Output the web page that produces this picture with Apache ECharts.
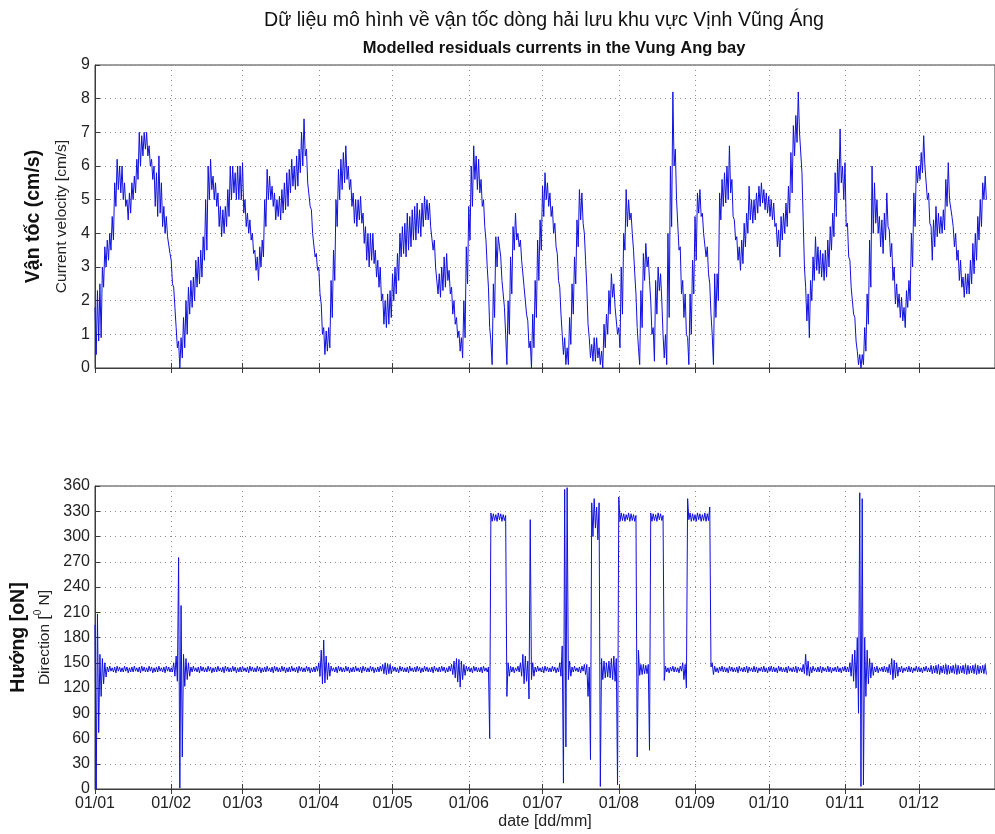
<!DOCTYPE html>
<html>
<head>
<meta charset="utf-8">
<script src="https://cdn.jsdelivr.net/npm/echarts@6.0.0/dist/echarts.min.js"></script>
<style>
  html, body { margin: 0; padding: 0; background: #fff; }
  #chart { width: 995px; height: 834px; }
</style>
</head>
<body>
<div id="chart"></div>
<script>
// Time axis in days from 01/01 (leap year), ticks at the first day of each month
const monthStart = [0, 31, 60, 91, 121, 152, 182, 213, 244, 274, 305, 335];
const monthLabels = ['01/01', '01/02', '01/03', '01/04', '01/05', '01/06',
                     '01/07', '01/08', '01/09', '01/10', '01/11', '01/12'];

// Current speed [cm/s]: daily upper (tide peak) and lower (tide trough) values
const speedHigh = [
  1.8,2.3,2.5,3.0,3.6,3.8,4.0,4.5,5.5,6.2,
  6.0,6.0,5.5,5.0,5.2,5.5,5.7,6.2,7.0,6.9,
  7.0,7.0,6.6,6.2,6.0,5.8,6.3,5.5,4.8,4.5,
  3.9,3.2,2.4,1.2,0.8,0.9,1.5,2.0,2.4,2.6,
  2.7,3.2,3.3,3.5,3.9,5.0,6.0,6.2,5.7,5.5,
  5.2,4.8,4.7,4.8,5.3,6.0,6.0,5.8,6.0,6.0,
  6.1,5.0,4.6,4.4,4.0,3.5,3.3,3.6,3.8,5.0,
  5.9,5.7,5.4,5.2,5.0,5.1,5.3,5.5,5.8,5.9,
  6.2,6.0,6.3,6.5,7.0,7.4,6.5,5.5,4.7,4.0,
  3.4,3.0,1.9,1.2,1.1,1.2,2.6,3.5,5.0,5.9,
  6.2,6.4,6.6,6.0,5.6,5.2,5.0,5.0,5.1,4.6,
  4.2,4.0,4.0,4.0,3.5,3.2,3.0,2.2,2.0,2.2,
  2.3,2.8,3.0,3.4,4.0,4.2,4.3,4.6,4.5,4.7,
  4.8,4.9,4.7,4.9,5.1,5.0,4.9,4.2,3.8,3.0,
  2.8,3.0,3.3,3.4,2.9,2.4,2.0,1.5,1.1,0.9,
  2.0,3.6,4.8,6.0,6.6,6.3,6.2,5.6,5.0,3.8,
  2.4,0.8,2.5,3.9,3.9,3.3,2.6,1.0,2.0,3.3,
  4.2,4.6,4.0,3.8,3.2,2.4,1.4,0.8,1.6,2.6,
  3.8,4.4,5.4,5.8,5.5,5.2,4.8,4.3,3.4,2.4,
  1.0,0.9,0.6,1.5,2.5,3.3,4.4,5.3,5.2,4.0,
  2.4,0.9,0.7,0.9,0.9,0.6,0.5,1.3,1.6,2.3,
  2.8,2.5,1.8,1.2,3.0,4.0,5.3,5.0,4.6,3.5,
  2.2,0.6,2.3,3.4,3.7,3.3,2.0,1.2,2.6,3.0,
  2.8,1.0,1.0,4.0,6.0,8.2,6.5,5.0,3.6,2.6,
  2.2,0.9,2.2,3.2,4.5,5.2,5.3,4.6,4.0,3.6,
  2.5,1.0,2.8,2.8,5.2,5.6,5.8,6.0,6.6,5.6,
  4.4,3.9,3.6,3.8,4.3,4.6,5.4,5.0,5.0,5.2,
  5.4,5.5,5.3,5.2,5.1,5.0,4.9,4.3,4.1,4.5,
  4.6,4.9,5.4,6.4,7.2,7.5,8.2,7.0,4.4,2.4,
  2.2,2.6,3.3,3.9,3.6,3.5,3.4,3.5,3.8,4.2,
  4.6,5.8,6.2,7.1,6.0,6.1,4.3,3.2,2.4,1.5,
  0.5,0.4,0.4,1.2,2.2,3.8,6.0,5.5,5.0,4.5,
  4.4,4.6,5.2,4.1,3.7,3.0,2.5,2.2,2.1,1.8,
  2.3,2.6,4.0,5.2,6.0,6.0,6.4,6.9,6.0,5.2,
  4.2,4.4,4.8,4.6,4.5,4.7,5.6,6.1,5.0,4.2,
  4.0,3.5,3.2,2.7,2.8,2.8,3.2,3.7,4.0,4.5,
  5.0,5.5,5.7
];
const speedLow = [
  0.4,0.8,0.9,2.4,3.0,3.2,3.5,3.8,4.8,5.3,
  5.2,5.0,4.8,4.4,4.6,5.0,5.2,5.6,6.0,6.3,
  6.5,6.3,6.0,5.6,4.8,4.5,4.6,4.2,4.0,3.9,
  3.4,2.5,1.8,0.6,0.0,0.3,0.6,1.0,1.6,1.8,
  2.0,2.4,2.5,2.7,3.2,3.5,5.0,5.3,5.0,4.8,
  4.2,3.9,4.0,4.2,4.5,5.0,5.2,5.0,5.0,5.0,
  4.6,4.2,4.0,3.8,3.4,2.9,2.6,3.0,3.3,4.2,
  5.0,5.0,4.8,4.4,4.5,4.4,4.6,4.7,4.8,5.2,
  5.4,5.3,5.4,5.8,6.0,6.3,5.5,4.8,4.0,3.3,
  2.9,2.2,1.0,0.4,0.5,0.6,1.5,2.6,4.2,5.0,
  5.3,5.5,5.6,5.3,4.8,4.3,4.2,4.4,4.3,3.7,
  3.2,3.0,3.2,3.1,2.7,2.4,2.0,1.3,1.2,1.3,
  1.5,2.0,2.2,2.6,3.3,3.4,3.3,3.5,3.6,3.8,
  3.8,4.0,3.9,4.2,4.4,4.4,4.2,3.5,3.0,2.2,
  2.1,2.3,2.4,2.6,2.2,1.6,1.3,0.9,0.5,0.3,
  0.9,2.5,3.8,4.8,5.6,5.3,5.2,4.8,4.2,3.0,
  1.2,0.1,1.5,3.0,3.6,2.6,1.8,0.1,1.0,2.2,
  3.5,3.8,3.6,3.2,2.4,1.6,0.6,0.0,0.6,1.5,
  2.6,3.5,4.5,5.0,4.8,4.5,4.0,3.6,2.6,1.6,
  0.4,0.1,0.1,0.7,1.6,2.5,3.6,4.4,4.3,3.2,
  1.3,0.3,0.2,0.2,0.3,0.1,0.0,0.6,1.0,1.6,
  2.1,1.8,1.0,0.6,1.6,3.5,4.2,4.4,4.0,2.8,
  1.2,0.1,1.2,2.6,3.0,2.6,1.0,0.2,1.6,2.3,
  2.0,0.3,0.1,1.5,4.2,6.0,5.0,3.5,2.2,1.5,
  1.0,0.1,1.0,2.2,3.2,4.6,4.5,4.0,3.3,2.8,
  1.6,0.1,1.5,2.0,4.4,4.8,4.9,5.0,5.2,4.5,
  3.8,3.2,2.9,3.1,3.6,4.0,4.4,4.3,4.4,4.6,
  4.8,4.9,4.7,4.6,4.5,4.4,4.2,3.6,3.3,3.8,
  4.0,4.2,4.6,5.2,6.3,6.7,7.0,5.8,3.0,1.4,
  0.9,2.0,2.6,2.9,2.8,2.7,2.6,2.7,3.0,3.5,
  3.9,4.5,5.2,5.5,5.0,4.2,3.3,2.4,1.6,0.8,
  0.1,0.0,0.1,0.5,1.3,2.4,4.0,4.3,4.0,3.6,
  3.4,3.8,4.2,3.3,2.6,1.9,1.8,1.5,1.4,1.2,
  1.8,2.0,3.0,4.2,5.5,5.6,5.8,6.0,5.0,4.3,
  3.2,3.6,3.9,4.0,4.0,4.1,4.8,5.0,4.5,3.6,
  3.2,2.6,2.4,2.1,2.2,2.2,2.5,2.8,3.2,3.8,
  4.2,5.0,5.0
];

// Current direction [deg N]: daily upper and lower values
const dirHigh = [
  195,208,160,155,150,145,146,144,145,146,
  145,144,146,145,144,145,146,144,145,146,
  145,144,146,145,144,145,146,144,145,146,
  145,144,150,158,275,218,160,155,150,145,
  146,144,145,146,145,144,146,145,144,145,
  146,144,145,146,145,144,146,145,144,145,
  146,144,145,146,145,144,146,145,144,145,
  146,144,145,146,145,144,146,145,144,145,
  146,144,145,146,145,144,146,145,144,145,
  146,150,165,177,158,150,146,144,145,146,
  145,144,146,145,144,145,146,144,145,146,
  145,144,146,145,144,145,146,148,150,149,
  148,146,145,144,146,145,144,145,146,144,
  145,146,145,144,146,145,144,145,146,144,
  145,146,145,144,146,148,152,155,154,152,
  148,146,145,144,146,145,144,145,146,144,
  145,328,327,326,328,327,326,325,150,146,
  145,144,146,150,160,158,152,320,150,145,
  146,144,145,146,145,144,146,145,144,150,
  170,356,358,152,145,146,144,145,146,148,
  148,145,340,345,335,340,155,152,150,152,
  155,158,155,347,328,327,326,328,327,326,
  325,165,148,148,147,148,328,327,326,328,
  327,325,146,144,145,146,145,144,146,150,
  148,345,328,327,326,328,327,326,328,327,
  335,150,146,144,145,146,145,144,146,145,
  144,145,146,144,145,146,145,144,146,145,
  144,145,146,144,145,146,145,144,146,145,
  144,145,146,144,145,146,145,144,148,160,
  152,145,146,144,145,146,145,144,146,145,
  144,145,146,144,145,146,145,150,160,165,
  180,352,345,180,165,155,150,145,146,144,
  145,146,145,148,155,153,150,145,146,144,
  145,146,145,144,146,145,144,145,146,144,
  147,146,147,148,146,147,148,147,146,147,
  148,147,146,147,148,147,146,147,148,147,
  146,147,148
];
const dirLow = [
  0,67,110,125,133,139,140,139,138,140,
  139,139,140,138,139,139,140,139,138,140,
  139,139,140,138,139,139,140,139,138,140,
  139,139,134,128,1,38,122,130,134,139,
  140,139,138,140,139,139,140,138,139,139,
  140,139,138,140,139,139,140,138,139,139,
  140,139,138,140,139,139,140,138,139,139,
  140,139,138,140,139,139,140,138,139,139,
  140,139,138,140,139,139,140,138,139,139,
  140,134,125,126,130,134,140,139,138,140,
  139,139,140,138,139,139,140,139,138,140,
  139,139,140,138,139,139,140,137,136,137,
  137,140,139,138,140,139,139,138,140,139,
  139,140,138,139,140,139,139,138,140,139,
  139,140,138,139,140,136,132,127,121,130,
  135,140,139,138,140,139,139,138,140,139,
  60,318,319,318,320,318,319,110,134,139,
  138,140,139,134,125,128,107,130,134,139,
  140,139,138,140,139,139,140,138,139,134,
  7,50,130,134,139,140,139,138,140,136,
  110,35,300,310,296,3,130,132,133,132,
  130,128,5,318,319,318,320,318,319,318,
  38,135,136,137,137,46,318,319,318,320,
  319,129,139,138,140,139,139,138,140,130,
  120,320,318,319,318,320,318,319,318,319,
  145,136,139,138,140,139,139,138,140,139,
  139,138,140,139,139,138,140,139,139,138,
  140,139,139,138,140,139,139,138,140,139,
  139,138,140,139,139,138,140,139,137,135,
  134,138,140,139,139,138,140,139,139,138,
  140,139,139,138,140,139,139,134,128,120,
  90,3,5,110,125,132,135,139,138,140,
  139,139,138,136,130,132,134,139,138,140,
  139,139,138,140,139,139,138,140,139,139,
  137,138,137,136,138,137,136,137,138,137,
  136,137,138,137,136,137,138,137,136,137,
  138,137,136
];

// Peak at the start of each day, trough half a day later
function dailyPoints(high, low) {
  const pts = [];
  for (let d = 0; d < high.length; d++) {
    pts.push([d, high[d]]);
    pts.push([d + 0.5, low[d]]);
  }
  return pts;
}

const FONT = '"Liberation Sans", Arial, Helvetica, sans-serif';
const LINE_BLUE = '#1010e0';
const gridDots = { color: '#8c8c8c', width: 1, type: [1, 4] };
const frameColor = '#3c3c3c';

function monthAxis(gridIndex, withLabels) {
  return {
    type: 'value', gridIndex: gridIndex, min: 0, max: 366,
    axisLine: { show: true, onZero: false, lineStyle: { color: frameColor } },
    axisTick: { show: true, inside: true, length: 5, customValues: monthStart,
                lineStyle: { color: frameColor } },
    axisLabel: {
      show: withLabels, customValues: monthStart, margin: 7,
      fontFamily: FONT, fontSize: 16, color: '#222',
      formatter: function (v) { return monthLabels[monthStart.indexOf(v)]; }
    },
    splitLine: { show: true, lineStyle: gridDots }
  };
}
function monthAxisTop(gridIndex) {
  return {
    type: 'value', gridIndex: gridIndex, min: 0, max: 366, position: 'top',
    axisLine: { show: false },
    axisTick: { show: true, inside: true, length: 5, customValues: monthStart,
                lineStyle: { color: frameColor } },
    axisLabel: { show: false },
    splitLine: { show: false }
  };
}

const xBottom = monthAxis(1, true);
xBottom.name = 'date [dd/mm]';
xBottom.nameLocation = 'middle';
xBottom.nameGap = 25;
xBottom.nameTextStyle = { fontFamily: FONT, fontSize: 16, color: '#222' };

const option = {
  animation: false,
  backgroundColor: '#ffffff',
  title: [
    {
      text: 'Dữ liệu mô hình về vận tốc dòng hải lưu khu vực Vịnh Vũng Áng',
      left: 539, top: 6, textAlign: 'center',
      textStyle: { fontFamily: FONT, fontSize: 19.6, fontWeight: 'normal', color: '#111' }
    },
    {
      text: 'Modelled residuals currents in the Vung Ang bay',
      left: 549, top: 35, textAlign: 'center',
      textStyle: { fontFamily: FONT, fontSize: 16.5, fontWeight: 'bold', color: '#111' }
    }
  ],
  grid: [
    { left: 95, top: 65, width: 908, height: 303, show: true,
      borderColor: frameColor, borderWidth: 1, containLabel: false },
    { left: 95, top: 486, width: 908, height: 303, show: true,
      borderColor: frameColor, borderWidth: 1, containLabel: false }
  ],
  xAxis: [ monthAxis(0, false), xBottom, monthAxisTop(0), monthAxisTop(1) ],
  yAxis: [
    {
      type: 'value', gridIndex: 0, min: 0, max: 9, interval: 1,
      axisLine: { show: true, lineStyle: { color: frameColor } },
      axisTick: { show: true, inside: true, length: 5, lineStyle: { color: frameColor } },
      axisLabel: { margin: 5, fontFamily: FONT, fontSize: 16, color: '#222' },
      splitLine: { show: true, lineStyle: gridDots },
      name: '{b|Vận tốc (cm/s)}\n{n|Current velocity [cm/s]}',
      nameLocation: 'middle', nameRotate: 90, nameGap: 18,
      nameTextStyle: {
        align: 'center',
        rich: {
          b: { fontFamily: FONT, fontSize: 19.5, fontWeight: 'bold', color: '#111', lineHeight: 34, align: 'center' },
          n: { fontFamily: FONT, fontSize: 15.5, color: '#222', lineHeight: 24, align: 'center' }
        }
      }
    },
    {
      type: 'value', gridIndex: 1, min: 0, max: 360, interval: 30,
      axisLine: { show: true, lineStyle: { color: frameColor } },
      axisTick: { show: true, inside: true, length: 5, lineStyle: { color: frameColor } },
      axisLabel: { margin: 5, fontFamily: FONT, fontSize: 16, color: '#222' },
      splitLine: { show: true, lineStyle: gridDots },
      name: '{b|Hướng [oN]}\n{n|Direction [}{s|0}{n| N]}',
      nameLocation: 'middle', nameRotate: 90, nameGap: 37,
      nameTextStyle: {
        align: 'center',
        rich: {
          b: { fontFamily: FONT, fontSize: 19.5, fontWeight: 'bold', color: '#111', lineHeight: 29, align: 'center' },
          n: { fontFamily: FONT, fontSize: 15.5, color: '#222', lineHeight: 22 },
          s: { fontFamily: FONT, fontSize: 10, color: '#222', verticalAlign: 'top', lineHeight: 22 }
        }
      }
    }
  ],
  series: [
    {
      name: 'Current velocity', type: 'line', xAxisIndex: 0, yAxisIndex: 0,
      data: dailyPoints(speedHigh, speedLow),
      showSymbol: false, symbol: 'none', clip: true,
      lineStyle: { color: LINE_BLUE, width: 1 }
    },
    {
      name: 'Direction', type: 'line', xAxisIndex: 1, yAxisIndex: 1,
      data: dailyPoints(dirHigh, dirLow),
      showSymbol: false, symbol: 'none', clip: true,
      lineStyle: { color: LINE_BLUE, width: 1 }
    }
  ]
};

const chart = echarts.init(document.getElementById('chart'), null, { renderer: 'canvas' });
chart.setOption(option);
</script>
</body>
</html>
